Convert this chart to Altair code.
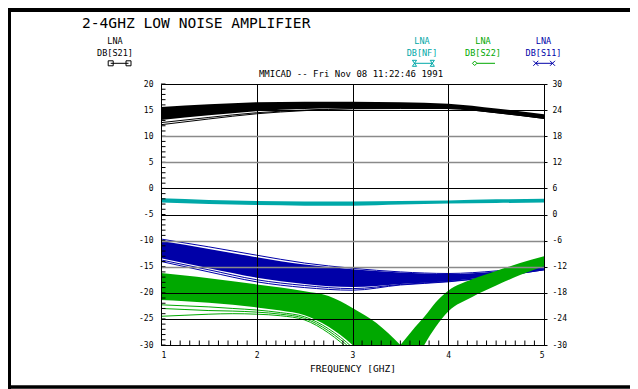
import altair as alt
import pandas as pd

MONO = "DejaVu Sans Mono"
BLACK, TEAL, GREEN, BLUE = "#000000", "#00a8a8", "#00a800", "#0000a8"

# ---------------- data ----------------
freq = [1.0, 1.5, 2.0, 2.5, 3.0, 3.5, 4.0, 4.5, 5.0]

# DB[S21] bundle (left axis)
s21_top = [15.6, 16.1, 16.5, 16.6, 16.6, 16.5, 16.2, 15.3, 14.2]
s21_bot = [13.1, 14.0, 14.8, 15.2, 15.4, 15.4, 15.3, 14.5, 13.4]
s21_out1 = [12.6, 13.6, 14.5, 15.0, 15.3, 15.35, 15.3, 14.5, 13.4]
s21_out2 = [12.2, 13.3, 14.3, 14.9, 15.25, 15.3, 15.3, 14.5, 13.4]

# DB[NF] bundle
nf_top = [-1.9, -2.2, -2.4, -2.5, -2.5, -2.4, -2.3, -2.1, -2.0]
nf_bot = [-2.7, -3.0, -3.2, -3.3, -3.3, -3.1, -2.9, -2.8, -2.7]

# DB[S11] bundle
s11_top = [-10.1, -11.6, -13.2, -14.6, -15.5, -16.1, -16.4, -15.9, -14.8]
s11_bot = [-13.4, -15.3, -17.1, -18.3, -18.9, -18.3, -17.8, -16.8, -15.6]
s11_up = [-9.7, -11.2, -12.8, -14.3, -15.3, -16.0, -16.3, -15.8, -14.7]
s11_lo1 = [-13.7, -15.6, -17.5, -18.6, -19.2, -18.4, -17.8, -16.9, -15.6]
s11_lo2 = [-14.0, -16.0, -17.9, -19.0, -19.5, -18.5, -17.9, -16.9, -15.6]

# DB[S22] bundle, left branch (falling into the null)
s22_freq_l = [1.0, 1.25, 1.5, 1.75, 2.0, 2.25, 2.5, 2.75, 3.0, 3.25, 3.5]
s22_top_l = [-16.2, -16.7, -17.2, -17.8, -18.4, -19.0, -19.7, -20.6, -22.9, -25.8, -30.0]
s22_bot_l = [-21.4, -21.6, -21.9, -22.3, -22.8, -23.4, -24.3, -26.5, -30.0, -35.0, -42.0]
s22_o1 = [-22.3, -22.5, -22.7, -23.0, -23.3, -23.8, -24.6, -26.9, -30.5, -35.5, -42.0]
s22_o2 = [-23.0, -23.2, -23.4, -23.5, -23.7, -24.1, -24.9, -27.3, -31.0, -36.0, -42.0]
s22_o3 = [-24.5, -24.3, -24.1, -24.0, -24.1, -24.4, -25.2, -27.7, -31.5, -36.5, -42.0]
# right branch (rising out of the null)
s22_freq_r = [3.5, 3.62, 3.75, 3.87, 4.0, 4.25, 4.5, 4.75, 5.0]
s22_top_r = [-30.0, -27.3, -24.6, -21.8, -19.6, -17.4, -15.8, -14.3, -13.0]
s22_bot_r = [-40.0, -35.0, -30.0, -26.5, -23.6, -20.8, -18.6, -16.6, -14.9]

left_ticks = [20, 15, 10, 5, 0, -5, -10, -15, -20, -25, -30]
x_ticks = [1, 2, 3, 4, 5]
y_minor = list(range(-30, 21))
x_minor = [round(1 + 0.1 * i, 1) for i in range(1, 40) if i % 10]

# ---------------- helpers ----------------
xs = alt.Scale(domain=[1, 5], nice=False, zero=False)
ys = alt.Scale(domain=[-30, 20], nice=False, zero=False)

def lines_df(f, traces):
    rows = []
    for name, vals in traces.items():
        for fr, v in zip(f, vals):
            rows.append({"freq": fr, "val": v, "trace": name})
    return pd.DataFrame(rows)

ax_x_main = alt.Axis(orient="bottom", values=x_ticks, tickSize=0, labelPadding=6,
                     domain=True, domainColor="black", title="FREQUENCY [GHZ]",
                     titlePadding=4, titleFont=MONO, titleFontSize=9.5,
                     titleFontWeight="normal", titleColor="black", grid=False, zindex=1)
ax_x_grid = alt.Axis(orient="bottom", values=[2, 3, 4], grid=True, gridColor="black",
                     gridWidth=1, labels=False, ticks=False, domain=False, title=None,
                     zindex=1)

ax_y_main = alt.Axis(orient="left", values=left_ticks, tickSize=0, labelPadding=8,
                     labelExpr="'' + datum.value", domain=True, domainColor="black",
                     grid=False, title=None, zindex=1)
ax_y_grid_k = alt.Axis(orient="left", values=[15, 0, -5, -20, -25], grid=True,
                       gridColor="black", gridWidth=1, labels=False, ticks=False,
                       domain=False, title=None, zindex=1)
ax_y_grid_g = alt.Axis(orient="left", values=[10, 5, -10, -15], grid=True,
                       gridColor="#8a8a8a", gridWidth=1.5, labels=False, ticks=False,
                       domain=False, title=None, zindex=1)
ax_y_right = alt.Axis(orient="right", values=left_ticks, tickSize=3, labelPadding=5,
                      labelExpr="'' + round((datum.value + 30) * 1.2 - 30)",
                      domain=True, domainColor="black", tickColor="black",
                      grid=False, title=None, zindex=1)

def band(df, color, xaxis, yaxis, detail=None):
    enc = dict(x=alt.X("freq:Q", scale=xs, axis=xaxis),
               y=alt.Y("top:Q", scale=ys, axis=yaxis),
               y2="bot:Q")
    if detail:
        enc["detail"] = detail
    return alt.Chart(df).mark_area(color=color, clip=True, interpolate="monotone").encode(**enc)

def lines(df, color, xaxis, yaxis):
    return alt.Chart(df).mark_line(color=color, strokeWidth=1, clip=True,
                                   interpolate="monotone").encode(
        x=alt.X("freq:Q", scale=xs, axis=xaxis),
        y=alt.Y("val:Q", scale=ys, axis=yaxis),
        detail="trace:N")

one = pd.DataFrame({"k": [0]})

def txt(s, x, y, color="black", size=8.5, align="center"):
    return alt.Chart(one).mark_text(text=s, font=MONO, fontSize=size, color=color,
                                    align=align, baseline="alphabetic").encode(
        x=alt.value(x), y=alt.value(y))

def sym(shape, x, y, color, size):
    return alt.Chart(one).mark_point(shape=shape, size=size, filled=False,
                                     strokeWidth=1, color=color, opacity=1).encode(
        x=alt.value(x), y=alt.value(y))

def hline(x1, x2, y, color, w=1):
    return alt.Chart(one).mark_rule(color=color, strokeWidth=w).encode(
        x=alt.value(x1), x2=alt.value(x2), y=alt.value(y))

def vline(x, y1, y2, color, w=1):
    return alt.Chart(one).mark_rule(color=color, strokeWidth=w).encode(
        x=alt.value(x), y=alt.value(y1), y2=alt.value(y2))

# ---------------- layers ----------------
s21_area = band(pd.DataFrame({"freq": freq, "top": s21_top, "bot": s21_bot}),
                BLACK, ax_x_main, ax_y_main)
s21_lines = lines(lines_df(freq, {"a": s21_out1, "b": s21_out2}), BLACK, None, None)
nf_area = band(pd.DataFrame({"freq": freq, "top": nf_top, "bot": nf_bot}),
               TEAL, ax_x_grid, ax_y_grid_k)
s11_area = band(pd.DataFrame({"freq": freq, "top": s11_top, "bot": s11_bot}),
                BLUE, None, ax_y_grid_g)
s11_lines = lines(lines_df(freq, {"u": s11_up, "l1": s11_lo1, "l2": s11_lo2}), BLUE,
                  None, ax_y_right)
s22_df = pd.concat([
    pd.DataFrame({"freq": s22_freq_l, "top": s22_top_l, "bot": s22_bot_l, "seg": "L"}),
    pd.DataFrame({"freq": s22_freq_r, "top": s22_top_r, "bot": s22_bot_r, "seg": "R"}),
])
s22_area = band(s22_df, GREEN, None, None, detail="seg:N")
s22_lines = lines(lines_df(s22_freq_l, {"o1": s22_o1, "o2": s22_o2, "o3": s22_o3}),
                  GREEN, None, None)

# minor ticks pointing into the plot
y_minor_ticks = alt.Chart(pd.DataFrame({"yv": y_minor})).mark_rule(
    color=BLACK, strokeWidth=1).encode(
    y=alt.Y("yv:Q", scale=ys, axis=None), x=alt.value(0), x2=alt.value(4.5))
x_minor_ticks = alt.Chart(pd.DataFrame({"xv": x_minor})).mark_rule(
    color=BLACK, strokeWidth=1).encode(
    x=alt.X("xv:Q", scale=xs, axis=None), y=alt.value(256.5), y2=alt.value(261))

deco = [
    # frame
    vline(-151.5, -76, 305, BLACK, 3),
    hline(-153, 469, -74, BLACK, 4),
    hline(-153, 469, 303, BLACK, 3.5),
    # title and run stamp
    txt("2-4GHZ LOW NOISE AMPLIFIER", -79, -56, size=14.6, align="left"),
    txt("MMICAD -- Fri Nov 08 11:22:46 1991", 190, -7, size=9),
    # legends
    txt("LNA", -46, -40, BLACK), txt("DB[S21]", -46, -28, BLACK),
    hline(-50.3, -32.5, -20.7, BLACK),
    sym("square", -50.3, -20.7, BLACK, 25), sym("square", -32.5, -20.7, BLACK, 25),
    txt("LNA", 261, -40, TEAL), txt("DB[NF]", 261, -28, TEAL),
    hline(253.5, 271.3, -20.7, TEAL),
    sym("M-0.7,-1L0.7,-1L-0.7,1L0.7,1Z", 253.5, -20.7, TEAL, 36),
    sym("M-0.7,-1L0.7,-1L-0.7,1L0.7,1Z", 271.3, -20.7, TEAL, 36),
    txt("LNA", 322, -40, GREEN), txt("DB[S22]", 322, -28, GREEN),
    hline(315.7, 334, -20.7, GREEN),
    sym("diamond", 313.7, -20.7, GREEN, 20),
    txt("LNA", 382.5, -40, BLUE), txt("DB[S11]", 382.5, -28, BLUE),
    hline(374.8, 391.5, -20.7, BLUE),
    sym("M-1,-1L1,1M-1,1L1,-1", 374.8, -20.7, BLUE, 25),
    sym("M-1,-1L1,1M-1,1L1,-1", 391.5, -20.7, BLUE, 25),
]

chart = alt.layer(
    s21_area, s21_lines, nf_area, s11_area, s11_lines, s22_area, s22_lines,
    y_minor_ticks, x_minor_ticks, *deco
).resolve_axis(x="independent", y="independent").properties(
    width=383, height=261,
    autosize=alt.AutoSizeParams(type="none"),
    padding={"left": 153, "top": 76, "right": 86, "bottom": 44},
    background="white",
).configure_view(stroke="black", strokeWidth=1).configure_axis(
    labelFont=MONO, labelFontSize=8, labelColor="black",
    tickColor="black", domainColor="black",
)

chart.save("out.html", embed_options={"renderer": "svg", "actions": False})
